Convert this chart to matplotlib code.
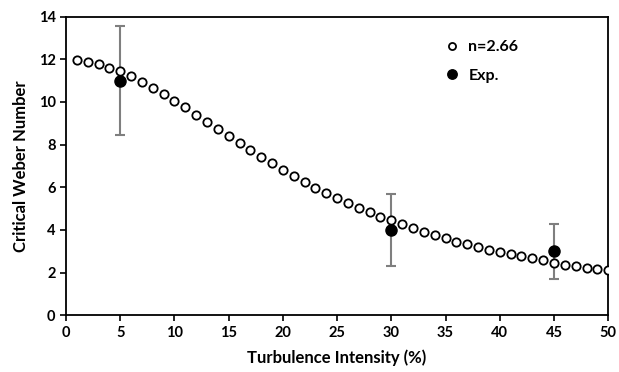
import matplotlib
matplotlib.use("Agg")
import matplotlib.pyplot as plt
import numpy as np

plt.rcParams['font.family'] = ['Lato', 'DejaVu Sans']
plt.rcParams['font.weight'] = 'bold'

# model curve n=2.66
ti_model = np.arange(1, 51)
we_model = [11.95, 11.87, 11.76, 11.60, 11.43, 11.20, 10.93, 10.67, 10.39, 10.06,
            9.74, 9.41, 9.08, 8.74, 8.40, 8.06, 7.73, 7.43, 7.12, 6.81,
            6.53, 6.25, 5.97, 5.72, 5.49, 5.26, 5.02, 4.84, 4.63, 4.45,
            4.28, 4.08, 3.90, 3.75, 3.61, 3.45, 3.33, 3.20, 3.08, 2.95,
            2.86, 2.77, 2.67, 2.58, 2.47, 2.38, 2.30, 2.21, 2.15, 2.10]

# experiments
ti_exp = [5, 30, 45]
we_exp = [11.0, 4.0, 3.0]
we_err = [2.55, 1.7, 1.3]

fig = plt.figure(figsize=(6.19, 3.72), dpi=100)
ax = fig.add_axes([0.1066, 0.1524, 0.876, 0.803])

ax.errorbar(ti_exp, we_exp, yerr=we_err, fmt='none', ecolor='#7f7f7f',
            elinewidth=1.5, capsize=3.5, capthick=1.5, zorder=2)
ax.plot(ti_model, we_model, 'o', ms=6, mfc='white', mec='black', mew=1.3,
        label='n=2.66', zorder=3)
ax.plot(ti_exp, we_exp, 'o', ms=8, color='black', label='Exp.', zorder=4)

ax.set_xlim(0, 50)
ax.set_ylim(0, 14)
ax.set_xticks(range(0, 51, 5))
ax.set_yticks(range(0, 15, 2))
ax.tick_params(direction='out', length=4, width=1.2, labelsize=10.5)
for s in ax.spines.values():
    s.set_linewidth(1.3)
ax.set_xlabel('Turbulence Intensity (%)', fontsize=12, fontweight='bold', labelpad=7)
ax.set_ylabel('Critical Weber Number', fontsize=12, fontweight='bold', labelpad=7)

ax.legend(loc='upper left', bbox_to_anchor=(0.655, 0.97), frameon=False,
          fontsize=11.5, handletextpad=0.05, labelspacing=0.9, markerscale=0.85)

fig.savefig('out.png', dpi=100)
